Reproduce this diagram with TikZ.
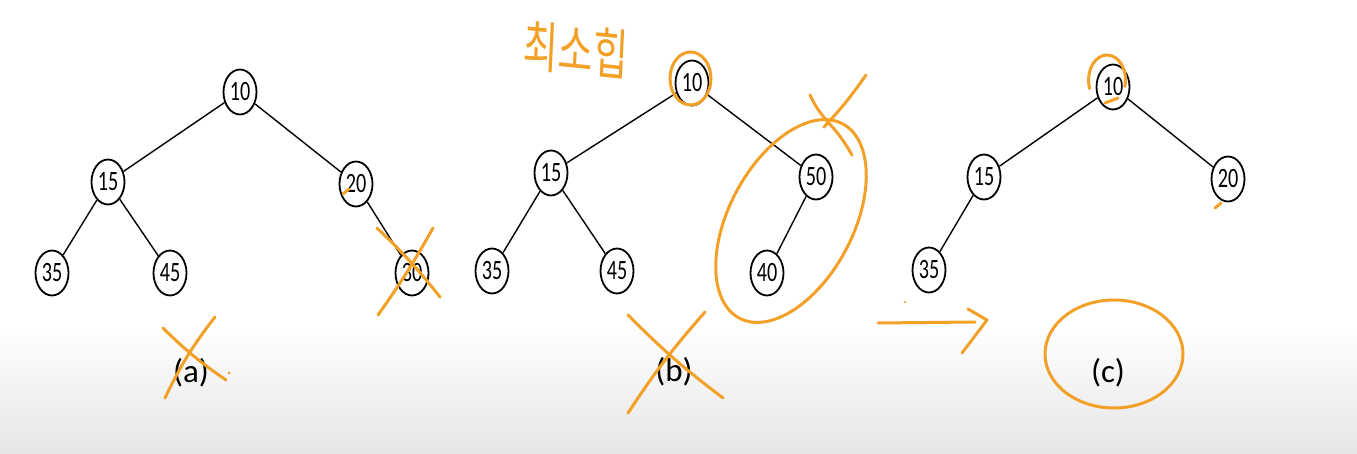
\documentclass[tikz,border=0pt]{standalone}
\usepackage{fontspec}
\setmainfont{Carlito}
\newfontfamily\digitfont{Carlito}[FakeStretch=0.72]
\newfontfamily\hangul{Noto Sans CJK KR}
\usetikzlibrary{shapes.geometric}
\definecolor{pen}{RGB}{243,160,40}
\definecolor{floor}{RGB}{230,230,230}
\tikzset{
  key/.style={ellipse, draw, line width=1.8pt, minimum width=33pt, minimum height=45pt,
    inner sep=0pt, fill=white, font=\digitfont\fontsize{28}{28}\selectfont},
  link/.style={line width=1.4pt},
  caption/.style={font=\fontsize{33}{33}\selectfont},
  ink/.style={draw=pen, line width=3pt, line cap=round, line join=round},
}
\begin{document}
\begin{tikzpicture}[x=1pt,y=-1pt]
% page and soft grey floor
\fill[white] (0,0) rectangle (1357,454);
\shade[top color=white, bottom color=floor] (0,325) rectangle (1357,454);
\useasboundingbox (0,0) rectangle (1357,454);

% ---- tree (a)
\node[key] (A10) at (240,92) {10};
\node[key] (A15) at (108,182) {15};
\node[key] (A20) at (356,184) {20};
\node[key] (A35) at (52,273) {35};
\node[key] (A45) at (170,273) {45};
\node[key] (A30) at (412,273) {30};
\draw[link] (A10) -- (A15);
\draw[link] (A10) -- (A20);
\draw[link] (A15) -- (A35);
\draw[link] (A15) -- (A45);
\draw[link] (A20) -- (A30);
\node[caption] (La) at (191,373) {(a)};

% ---- tree (b)
\node[key] (B10) at (692,83) {10};
\node[key] (B15) at (551,173) {15};
\node[key] (B50) at (816,177) {50};
\node[key] (B35) at (492,271) {35};
\node[key] (B45) at (617,271) {45};
\node[key] (B40) at (767,273) {40};
\draw[link] (B10) -- (B15);
\draw[link] (B10) -- (B50);
\draw[link] (B15) -- (B35);
\draw[link] (B15) -- (B45);
\draw[link] (B50) -- (B40);
\node[caption] (Lb) at (674,372) {(b)};

% ---- tree (c)
\node[key] (C10) at (1113,87) {10};
\node[key] (C15) at (984,177) {15};
\node[key] (C20) at (1228,179) {20};
\node[key] (C35) at (929,270) {35};
\draw[link] (C10) -- (C15);
\draw[link] (C10) -- (C20);
\draw[link] (C15) -- (C35);
\node[caption] (Lc) at (1108,373) {(c)};

% ---- pen annotations
\node[text=pen, font=\hangul\fontsize{38}{38}\selectfont, yscale=1.45, rotate=-4] (note) at (576,50) {최소힙};

% crossed-out node 30 and label (a)
\draw[ink] (377,228) to[bend left=4] (440,297);
\draw[ink] (433,228) to[bend left=3] (378,315);
\draw[ink] (343,194) -- (349,189);
\draw[ink] (163,328) to[bend right=5] (226,380);
\draw[ink] (215,317) to[bend right=6] (165,398);
\fill[pen] (229,373) circle (1.5);

% root of (b), subtree loop and crossed label (b)
\draw[ink] (690.5,78.5) ellipse [x radius=20.5, y radius=26.5];
\draw[ink, rotate around={62:(791,221)}] (791,221) ellipse [x radius=110, y radius=62];
\draw[ink] (810,95) to[bend right=8] (828,122) to[bend left=6] (852,155);
\draw[ink] (866,75) to[bend left=4] (824,127);
\draw[ink] (628,315) to[bend right=4] (723,398);
\draw[ink] (705,312) to[bend right=4] (628,413);

% arrow towards (c)
\draw[ink] (878,323) -- (975,322);
\draw[ink] (968,309) -- (987,320) -- (962,353);
\fill[pen] (905,302) circle (1.2);

% marks on tree (c)
\draw[ink] (1124.9,86.5) arc[start angle=15, end angle=-200, x radius=18.5, y radius=25];
\draw[ink] (1105,103) -- (1118,98);
\draw[ink] (1215,208) -- (1221,203);
\draw[ink] (1114,354) ellipse [x radius=69, y radius=54];
\end{tikzpicture}
\end{document}
